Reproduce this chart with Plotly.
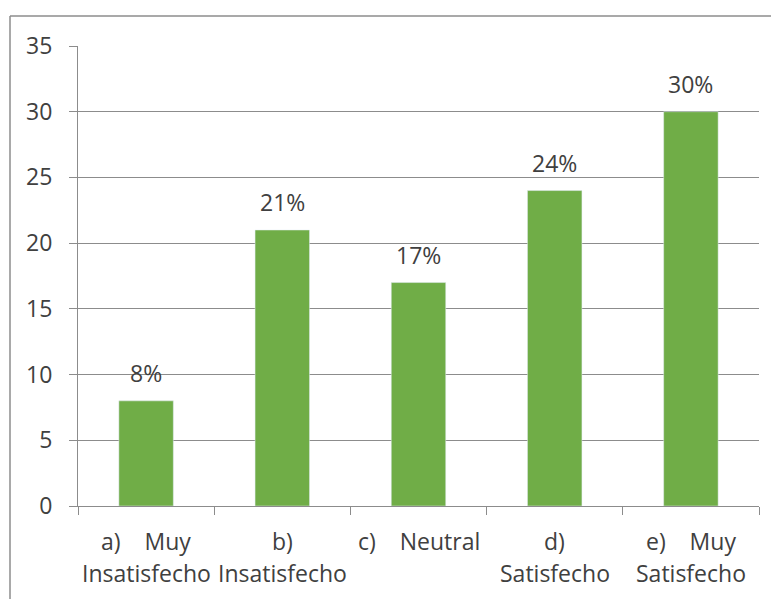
import plotly.graph_objects as go

categories = ["a) Muy Insatisfecho", "b) Insatisfecho", "c) Neutral", "d) Satisfecho", "e) Muy Satisfecho"]
label_line1 = ["a)\u00a0\u00a0\u00a0\u00a0Muy", "b)", "c)\u00a0\u00a0\u00a0\u00a0Neutral", "d)", "e)\u00a0\u00a0\u00a0\u00a0Muy"]
label_line2 = ["Insatisfecho", "Insatisfecho", "", "Satisfecho", "Satisfecho"]
values = [8, 21, 17, 24, 30]
pct_labels = ["8%", "21%", "17%", "24%", "30%"]
y_ticks = [0, 5, 10, 15, 20, 25, 30, 35]

FONT = "Open Sans"
TXT = "#404040"
GRID = "#8c8c8c"
GREEN = "#70AD47"

fig = go.Figure()
fig.add_trace(go.Bar(x=categories, y=values, marker_color=GREEN, width=0.4,
                     hoverinfo="skip"))

annotations = []
for c, v, t in zip(categories, values, pct_labels):
    annotations.append(dict(x=c, y=v, xref="x", yref="y", text=t, showarrow=False,
                            yanchor="middle", yshift=28,
                            font=dict(family=FONT, size=23, color=TXT)))
for c, l1, l2 in zip(categories, label_line1, label_line2):
    annotations.append(dict(x=c, y=0, xref="x", yref="y", text=l1, showarrow=False,
                            yanchor="middle", yshift=-35,
                            font=dict(family=FONT, size=23, color=TXT)))
    if l2:
        annotations.append(dict(x=c, y=0, xref="x", yref="y", text=l2, showarrow=False,
                                yanchor="middle", yshift=-67,
                                font=dict(family=FONT, size=23, color=TXT)))

# page body has an 8px margin, so the figure is offset by 8px
OFF = 8
W, H = 779 - OFF, 599 - OFF
L, R, T, B = 78 - OFF, 20, 46 - OFF, 93
pw, ph = W - L - R, H - T - B
bx0 = (10 - OFF - L) / pw
by0 = (H - B - (16 - OFF)) / ph
bybot = (H - B - (H + 5)) / ph
bxr = (W + 5 - L) / pw

fig.update_layout(
    width=W, height=H,
    margin=dict(l=L, r=R, t=T, b=B, pad=0),
    paper_bgcolor="white", plot_bgcolor="white",
    showlegend=False,
    font=dict(family=FONT, size=23, color=TXT),
    annotations=annotations,
    shapes=[
        dict(type="line", xref="paper", yref="paper", x0=bx0, x1=bxr, y0=by0, y1=by0,
             line=dict(color=GRID, width=1.5)),
        dict(type="line", xref="paper", yref="paper", x0=bx0, x1=bx0, y0=by0, y1=bybot,
             line=dict(color=GRID, width=1.5)),
    ],
    xaxis=dict(type="category", range=[-0.5, 4.5], showticklabels=False,
               showgrid=False, showline=True, linecolor=GRID, linewidth=1,
               ticks="outside", tickson="boundaries", ticklen=8, tickcolor=GRID,
               fixedrange=True),
    yaxis=dict(range=[0, 35], tickvals=y_ticks, showgrid=True, gridcolor=GRID,
               gridwidth=1, zeroline=False, showline=True, linecolor=GRID,
               ticks="outside", ticklen=8, tickcolor=GRID, ticklabelstandoff=12,
               tickfont=dict(family=FONT, size=23, color=TXT), fixedrange=True),
)

fig.write_html("out.html")
